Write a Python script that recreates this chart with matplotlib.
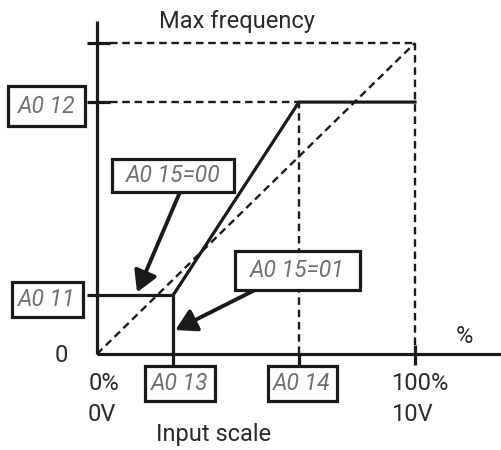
import matplotlib
matplotlib.use("Agg")
import matplotlib.pyplot as plt
from matplotlib.patches import Rectangle, FancyArrowPatch

# ---- data (percent of input scale / percent of max frequency) ----
start_bias = 19.0     # A011
end_bias = 81.0       # A012
start_point = 24.0    # A013
end_point = 63.5      # A014
max_input = 100.0
max_freq = 100.0

curve_x = [start_point, end_point, max_input]
curve_y = [start_bias, end_bias, end_bias]

param_labels = ["A0 11", "A0 12", "A0 13", "A0 14"]
mode_labels = ["A0 15=00", "A0 15=01"]
x_tick_top = ["0%", "100%"]
x_tick_bottom = ["0V", "10V"]

# ---- figure ----
W, H = 501, 450
fig = plt.figure(figsize=(W / 100, H / 100), dpi=100)
ax = fig.add_axes([0, 0, 1, 1])
sx, sy = 3.18, 3.11
ox, oy = 97, 354
ax.set_xlim(-ox / sx, (W - ox) / sx)
ax.set_ylim(-(H - oy) / sy, oy / sy)
ax.axis("off")

FONT = ["Liberation Sans Narrow", "Roboto", "Liberation Sans", "DejaVu Sans"]
K = "#1a1a1a"
AX_LW = 2.3
DASH = dict(color=K, lw=1.7, dashes=(3.2, 2.0))

# axes
ax.plot([0, 0], [0, 107], color=K, lw=AX_LW, solid_capstyle="butt")
ax.plot([0, (W - ox) / sx], [0, 0], color=K, lw=AX_LW, solid_capstyle="butt")

# y ticks
for yv in [max_freq, end_bias]:
    ax.plot([-3.2, 4.0], [yv, yv], color=K, lw=AX_LW, solid_capstyle="butt")
# x tick at 100%
ax.plot([max_input, max_input], [-3.5, 3.0], color=K, lw=AX_LW, solid_capstyle="butt")

# dashed guides
ax.plot([4.0, max_input], [max_freq, max_freq], **DASH)
ax.plot([max_input, max_input], [3.0, max_freq], **DASH)
ax.plot([0, max_input], [0, max_freq], **DASH)
ax.plot([4.0, end_point], [end_bias, end_bias], **DASH)
ax.plot([end_point, end_point], [0, end_bias], **DASH)
ax.plot([end_point, end_point], [-4.5, 0], color=K, lw=AX_LW, solid_capstyle="butt")

# A015=00 : hold start bias below start point
ax.plot([-3.2, start_point], [start_bias, start_bias], color=K, lw=AX_LW,
        solid_capstyle="butt")
# A015=01 : zero below start point
ax.plot([start_point, start_point], [-4.3, start_bias], color=K, lw=AX_LW,
        solid_capstyle="butt")
# main curve
ax.plot(curve_x, curve_y, color=K, lw=AX_LW, solid_joinstyle="miter")

# ---- boxes ----
def box(xc, yc, w, h, text):
    wd, hd = w / sx, h / sy
    ax.add_patch(Rectangle((xc - wd / 2, yc - hd / 2), wd, hd, fc="white",
                           ec=K, lw=2.3, zorder=5))
    ax.text(xc, yc, text, ha="center", va="center", fontsize=16.5,
            family=FONT, style="italic", color="#707070", zorder=6)

box(-15.7, 17.4, 71, 35, param_labels[0])
box(-15.9, 79.6, 77, 40, param_labels[1])
box(26.1, -9.6, 70, 35, param_labels[2])
box(64.5, -9.6, 69, 35, param_labels[3])
box(23.9, 57.4, 122, 33, mode_labels[0])
box(62.9, 27.0, 125, 39, mode_labels[1])

# arrows
for (x0, y0), (x1, y1) in [((26.1, 52.1), (12.6, 19.8)),
                           ((49.7, 20.6), (24.6, 7.7))]:
    ax.add_patch(FancyArrowPatch((x0, y0), (x1, y1),
                                 arrowstyle="-|>,head_length=7,head_width=4",
                                 lw=2.8, color=K, shrinkA=0, shrinkB=0,
                                 mutation_scale=1.8, zorder=4))

# ---- texts ----
TK = dict(family=FONT, fontsize=17, color="#2a2a2a", ha="center", va="center")
ax.text(44.0, 106.8, "Max frequency", **TK)
ax.text(-11.3, -0.6, "0", **TK)
ax.text(2.2, -9.6, x_tick_top[0], **TK)
ax.text(1.6, -19.3, x_tick_bottom[0], **TK)
ax.text(101.6, -9.6, x_tick_top[1], **TK)
ax.text(99.0, -19.3, x_tick_bottom[1], **TK)
ax.text(36.5, -26.0, "Input scale", **TK)
ax.text(115.7, 5.5, "%", **TK)

fig.savefig("out.png", dpi=100, facecolor="white")
